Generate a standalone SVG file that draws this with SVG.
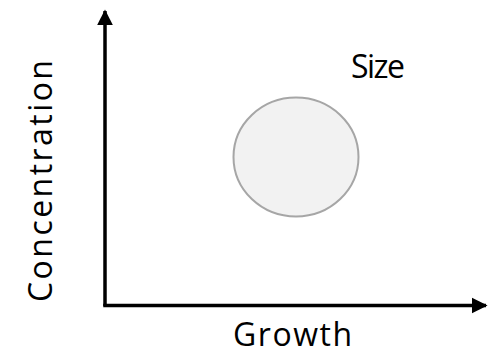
<svg xmlns="http://www.w3.org/2000/svg" width="489" height="354" viewBox="0 0 489 354">
<style>
.lbl{font-family:"Open Sans","Noto Sans",sans-serif;font-size:32px;fill:#000;text-anchor:middle}
.axis{stroke:#000;stroke-width:3.5;fill:none}
</style>
<defs>
<marker id="arr" viewBox="0 0 10 10" refX="9" refY="5" markerUnits="userSpaceOnUse" markerWidth="16" markerHeight="17" orient="auto">
<path d="M0,0 L10,5 L0,10 z" fill="#000"/>
</marker>
</defs>
<rect width="489" height="354" fill="#fff"/>
<g id="connectors">
<path class="axis" d="M105,306 L105,11" marker-end="url(#arr)"/>
<path class="axis" d="M103.25,305.5 L486,305.5" marker-end="url(#arr)"/>
</g>
<g id="size-circle">
<ellipse cx="296" cy="157" rx="62.5" ry="59.5" fill="#F2F2F2" stroke="#A6A6A6" stroke-width="2"/>
</g>
<g id="label-size"><text class="lbl" x="378" y="78" textLength="54">Size</text></g>
<g id="label-growth"><text class="lbl" x="292.5" y="346" textLength="119">Growth</text></g>
<g id="label-concentration"><text class="lbl" transform="translate(51.5,181) rotate(-90)" x="0" y="0" textLength="242">Concentration</text></g>
</svg>
